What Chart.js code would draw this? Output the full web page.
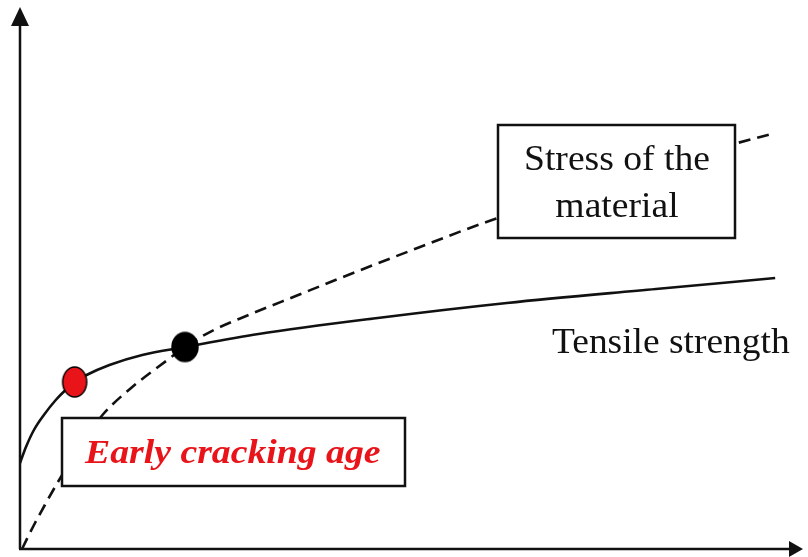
<!DOCTYPE html>
<html>
<head>
<meta charset="utf-8">
<script src="https://cdn.jsdelivr.net/npm/chart.js@4.4.1/dist/chart.umd.min.js"></script>
<style>
  html, body { margin: 0; padding: 0; background: #fff; }
  #wrap { width: 808px; height: 557px; }
</style>
</head>
<body>
<div id="wrap"><canvas id="myChart"></canvas></div>
<script>
// curves (x = age, y = strength / stress, arbitrary units)
const tensileX = [0, 6, 14, 24, 36, 48, 55, 67, 90, 123, 166, 240, 360, 490, 640, 760];
const tensileY = [86, 102, 119, 134, 149, 161, 167, 174, 184, 194, 202, 215, 231, 246, 260, 271];

const stressX = [2, 13, 25, 37, 60, 83, 113, 147, 166, 195, 230, 280, 320, 400, 475, 600, 715, 760];
const stressY = [0, 22, 44, 65, 102, 134, 162, 188, 202, 219, 234, 254, 270, 301, 329, 368, 404, 416];

const crackPoint = [55, 167];
const crossPoint = [166, 202];

const toXY = (xs, ys) => xs.map((x, i) => ({ x: x, y: ys[i] }));

// ellipse markers
const makeDot = (w, h, fill) => {
  const c = document.createElement('canvas');
  c.width = w + 4;
  c.height = h + 4;
  const g = c.getContext('2d');
  g.beginPath();
  g.ellipse(c.width / 2, c.height / 2, w / 2, h / 2, 0, 0, Math.PI * 2);
  g.fillStyle = fill;
  g.fill();
  g.lineWidth = 1.5;
  g.strokeStyle = '#000';
  g.stroke();
  return c;
};

// text slightly stretched sideways like the original picture
const wideText = (ctx, text, x, y, sx) => {
  ctx.save();
  ctx.translate(x, y);
  ctx.scale(sx, 1);
  ctx.fillText(text, 0, 0);
  ctx.restore();
};

const axesAndLabels = {
  id: 'axesAndLabels',
  beforeDatasetsDraw(chart) {
    const { ctx, chartArea } = chart;
    const x0 = chartArea.left, y0 = chartArea.bottom;
    ctx.save();
    ctx.strokeStyle = '#111';
    ctx.fillStyle = '#111';
    ctx.lineWidth = 2.5;
    ctx.beginPath();
    ctx.moveTo(x0, y0);
    ctx.lineTo(x0, chartArea.top + 14);
    ctx.moveTo(x0 - 1, y0);
    ctx.lineTo(chartArea.right - 10, y0);
    ctx.stroke();
    // arrow heads
    ctx.beginPath();
    ctx.moveTo(x0, chartArea.top);
    ctx.lineTo(x0 - 9, chartArea.top + 19);
    ctx.lineTo(x0 + 9, chartArea.top + 19);
    ctx.closePath();
    ctx.fill();
    ctx.beginPath();
    ctx.moveTo(chartArea.right, y0);
    ctx.lineTo(chartArea.right - 14, y0 - 8);
    ctx.lineTo(chartArea.right - 14, y0 + 8);
    ctx.closePath();
    ctx.fill();
    ctx.restore();
  },
  afterDatasetsDraw(chart) {
    const { ctx } = chart;
    ctx.save();
    const box = (l, t, r, b) => {
      ctx.fillStyle = '#fff';
      ctx.fillRect(l, t, r - l, b - t);
      ctx.strokeStyle = '#111';
      ctx.lineWidth = 2.5;
      ctx.strokeRect(l, t, r - l, b - t);
    };
    box(498, 125, 735, 238);
    box(62, 418, 405, 486);

    ctx.fillStyle = '#111';
    ctx.font = '35px "Liberation Serif", "Times New Roman", serif';
    ctx.textAlign = 'center';
    ctx.textBaseline = 'alphabetic';
    wideText(ctx, 'Stress of the', 617, 170, 1.075);
    wideText(ctx, 'material', 617, 217, 1.075);
    ctx.textAlign = 'left';
    wideText(ctx, 'Tensile strength', 552, 353, 1.07);

    ctx.fillStyle = '#e8141a';
    ctx.font = 'italic bold 34px "Liberation Serif", "Times New Roman", serif';
    ctx.textAlign = 'left';
    wideText(ctx, 'Early cracking age', 85, 463, 1.11);
    ctx.restore();
  }
};

new Chart(document.getElementById('myChart'), {
  type: 'scatter',
  data: {
    datasets: [
      {
        label: 'Stress of the material',
        data: toXY(stressX, stressY),
        showLine: true,
        borderColor: '#111',
        borderWidth: 2.6,
        borderDash: [12, 7],
        pointRadius: 0,
        cubicInterpolationMode: 'monotone',
        order: 3
      },
      {
        label: 'Tensile strength',
        data: toXY(tensileX, tensileY),
        showLine: true,
        borderColor: '#111',
        borderWidth: 2.6,
        pointRadius: 0,
        cubicInterpolationMode: 'monotone',
        order: 2
      },
      {
        label: 'Early cracking',
        data: [{ x: crackPoint[0], y: crackPoint[1] }],
        pointStyle: makeDot(24, 30, '#e8141a'),
        order: 1
      },
      {
        label: 'Intersection',
        data: [{ x: crossPoint[0], y: crossPoint[1] }],
        pointStyle: makeDot(26, 29, '#000'),
        order: 1
      }
    ]
  },
  options: {
    responsive: true,
    maintainAspectRatio: false,
    animation: false,
    layout: { padding: { left: 20, right: 0, top: 7, bottom: 8 } },
    plugins: { legend: { display: false }, tooltip: { enabled: false } },
    scales: {
      x: { type: 'linear', min: 0, max: 788, display: false },
      y: { type: 'linear', min: 0, max: 542, display: false }
    }
  },
  plugins: [axesAndLabels]
});
</script>
</body>
</html>
